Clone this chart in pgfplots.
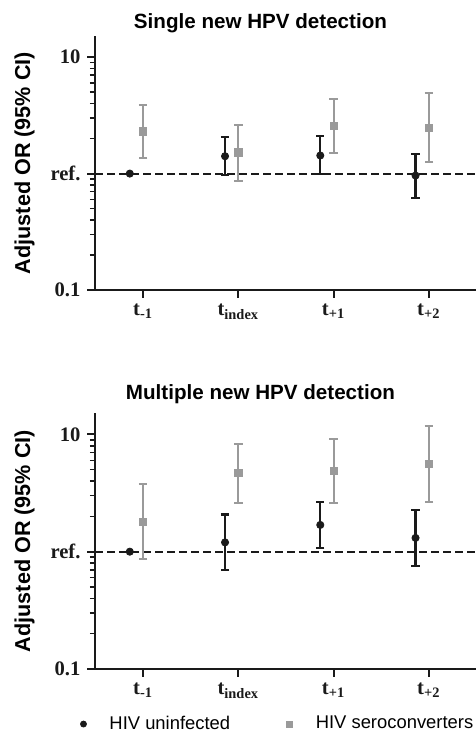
\documentclass[border=0pt]{standalone}
\usepackage{pgfplots}
\pgfplotsset{compat=1.18}
\usepackage{pgfplotstable}
\usepackage{fontspec}
\setmainfont{Liberation Serif}
\newfontfamily\arial{Liberation Sans}

\definecolor{hivneg}{HTML}{1A1A1A}
\definecolor{hivpos}{HTML}{9A9A9A}

% x = category position (black shifted left), or = adjusted OR, lo/hi = 95% CI
\pgfplotstableread{
x     or     lo     hi
0.86  1.41   0.975  2.07
1.86  1.43   0.987  2.11
2.86  0.962  0.62   1.48
}\singleneg
\pgfplotstableread{
x     or     lo     hi
0     2.30   1.37   3.87
1     1.52   0.866  2.63
2     2.55   1.50   4.36
3     2.48   1.26   4.90
}\singlepos
\pgfplotstableread{
x     or     lo     hi
0.86  1.20   0.697  2.07
1.86  1.69   1.07   2.67
2.86  1.31   0.759  2.27
}\multineg
\pgfplotstableread{
x     or     lo     hi
0     1.80   0.865  3.76
1     4.67   2.61   8.32
2     4.89   2.61   9.18
3     5.57   2.67   11.7
}\multipos

\pgfplotsset{
  every axis/.append style={
    scale only axis,
    width=190.5pt,
    xmin=-0.5, xmax=3.5,
    ymin=0.1, ymax=15.2,
    axis x line*=bottom, axis y line*=left,
    axis line style={line width=1pt, hivneg},
    tick align=outside,
    major tick length=4pt, minor tick length=2.8pt,
    every tick/.style={hivneg, line width=1pt},
    minor tick style={line width=0.8pt},
    xtick={0,1,2,3},
    xticklabels={t\textsubscript{-1}, t\textsubscript{index}, t\textsubscript{+1}, t\textsubscript{+2}},
    ytick={0.1,1,10},
    yticklabels={0.1,ref.,10},
    minor ytick={0.2,0.3,0.4,0.5,0.6,0.7,0.8,0.9,2,3,4,5,6,7,8,9},
    ticklabel style={font=\fontsize{10.3}{12}\selectfont\bfseries, hivneg},
    xticklabel style={anchor=base, yshift=-9pt},
    ylabel={Adjusted OR (95\% CI)},
    ylabel style={font=\arial\bfseries\fontsize{10.8}{12}\selectfont,
      at={(axis description cs:-0.186,0.5)}, anchor=center},
    clip=false,
  },
  uninf/.style={color=hivneg, only marks, mark=*, mark size=1.8pt,
    mark options={solid, fill=hivneg, draw=hivneg}},
  serocon/.style={color=hivpos, only marks, mark=square*, mark size=1.8pt,
    mark options={solid, fill=hivpos, draw=hivpos}},
  cibars/.style={error bars/y dir=both, error bars/y explicit,
    error bars/error bar style={line width=1.1pt, solid},
    error bars/error mark options={rotate=90, line width=1.1pt, mark size=2.1pt}},
  refline/.style={color=hivneg, line width=1pt, dash pattern=on 3.7pt off 2.3pt, forget plot},
}

\begin{document}
\begin{tikzpicture}
\begin{semilogyaxis}[at={(47.75pt,223pt)}, anchor=south west, height=127pt,
  title={Single new HPV detection},
  title style={font=\arial\bfseries\fontsize{10.3}{12}\selectfont,
    at={(axis description cs:0.433,1.034)}, anchor=base, yshift=-6.5pt}]
\addplot[refline] coordinates {(-0.5,1) (3.5,1)};
\addplot[uninf] coordinates {(-0.14,1)};
\addplot[uninf, cibars] table[x=x, y=or,
  y error plus expr=\thisrow{hi}-\thisrow{or},
  y error minus expr=\thisrow{or}-\thisrow{lo}] {\singleneg};
\addplot[serocon, cibars] table[x=x, y=or,
  y error plus expr=\thisrow{hi}-\thisrow{or},
  y error minus expr=\thisrow{or}-\thisrow{lo}] {\singlepos};
\end{semilogyaxis}

\begin{semilogyaxis}[at={(47.75pt,33.5pt)}, anchor=south west, height=128pt,
  title={Multiple new HPV detection},
  title style={font=\arial\bfseries\fontsize{10.3}{12}\selectfont,
    at={(axis description cs:0.433,1.055)}, anchor=base, yshift=-6.5pt},
  legend columns=2,
  legend image code/.code={\path[draw=none] (-1.8pt,0pt) rectangle (11pt,0.1pt);
    \draw[#1, mark size=1.5pt] plot coordinates {(0pt,0pt)};},
  legend style={draw=none, fill=none, inner sep=0pt,
    at={(axis description cs:-0.042,-0.215)}, anchor=west,
    font=\arial\fontsize{9.2}{11}\selectfont,
    /tikz/every even column/.append style={column sep=26pt}}]
\addplot[refline] coordinates {(-0.5,1) (3.5,1)};
\addplot[uninf] coordinates {(-0.14,1)};
\addlegendentry{HIV uninfected}
\addplot[uninf, cibars, forget plot] table[x=x, y=or,
  y error plus expr=\thisrow{hi}-\thisrow{or},
  y error minus expr=\thisrow{or}-\thisrow{lo}] {\multineg};
\addplot[serocon, cibars] table[x=x, y=or,
  y error plus expr=\thisrow{hi}-\thisrow{or},
  y error minus expr=\thisrow{or}-\thisrow{lo}] {\multipos};
\addlegendentry{HIV seroconverters}
\end{semilogyaxis}
\pgfresetboundingbox
\path[use as bounding box] (0,0) rectangle (238pt,368pt);
\end{tikzpicture}
\end{document}
